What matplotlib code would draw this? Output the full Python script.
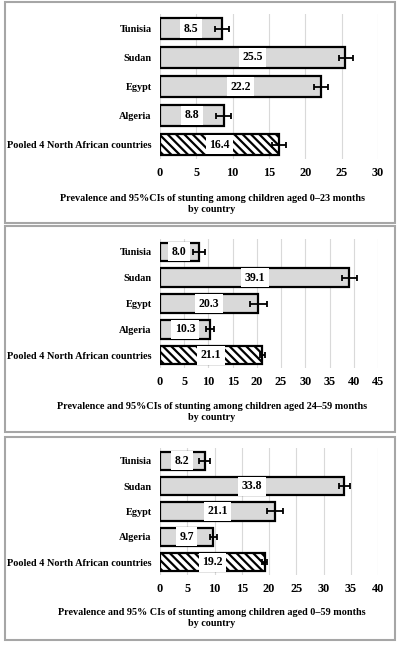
import matplotlib
matplotlib.use("Agg")
import matplotlib.pyplot as plt
from matplotlib.patches import Rectangle
import numpy as np

plt.rcParams["font.family"] = ["Liberation Serif", "DejaVu Serif"]
plt.rcParams["font.weight"] = "bold"
plt.rcParams["hatch.linewidth"] = 1.6

COUNTRIES = ["Tunisia", "Sudan", "Egypt", "Algeria", "Pooled 4 North African countries"]

# 0-23 months
PREV_0_23 = [8.5, 25.5, 22.2, 8.8, 16.4]
LOW_0_23 = [7.5, 24.6, 21.2, 7.7, 15.4]
HIGH_0_23 = [9.5, 26.5, 23.1, 9.8, 17.4]

# 24-59 months
PREV_24_59 = [8.0, 39.1, 20.3, 10.3, 21.1]
LOW_24_59 = [6.8, 37.6, 18.6, 9.4, 20.6]
HIGH_24_59 = [9.3, 40.6, 22.0, 11.2, 21.6]

# 0-59 months
PREV_0_59 = [8.2, 33.8, 21.1, 9.7, 19.2]
LOW_0_59 = [7.2, 32.8, 19.7, 9.1, 18.7]
HIGH_0_59 = [9.2, 34.8, 22.5, 10.4, 19.7]

TITLES = [
    "Prevalence and 95%CIs of stunting among children aged 0\u201323 months\nby country",
    "Prevalence and 95%CIs of stunting among children aged 24\u201359 months\nby country",
    "Prevalence and 95% CIs of stunting among children aged 0\u201359 months\nby country",
]
XMAX = [30, 45, 40]

W, H = 400, 647
# (axes top, axes bottom, title y, border top, border bottom) in pixels from top
PANELS = [
    (14, 159, 204, 2, 223),
    (239, 368, 412, 226, 432),
    (448, 575, 618, 437, 640),
]


def draw_panel(fig, prev, low, high, title, xmax, geom):
    top, bottom, title_y, b_top, b_bot = geom
    ax = fig.add_axes([160 / W, 1 - bottom / H, 218 / W, (bottom - top) / H])

    y = np.arange(len(COUNTRIES))[::-1]
    prev = np.asarray(prev)
    xerr = [prev - np.asarray(low), np.asarray(high) - prev]

    for yi, val, name in zip(y, prev, COUNTRIES):
        pooled = name.startswith("Pooled")
        ax.barh(yi, val, height=0.72, color="white" if pooled else "#d9d9d9",
                edgecolor="black", linewidth=1.6,
                hatch="\\\\\\\\" if pooled else None, zorder=2)
        ax.text(val / 2, yi, f"{val:.1f}", ha="center", va="center", fontsize=8.5,
                fontweight="bold", zorder=4,
                bbox=dict(facecolor="white", edgecolor="none",
                          boxstyle="square,pad=0.3"))

    ax.errorbar(prev, y, xerr=xerr, fmt="none", ecolor="black", elinewidth=1.3,
                capsize=2, capthick=1.3, zorder=5)

    ax.set_xlim(0, xmax)
    ax.set_ylim(-0.5, len(COUNTRIES) - 0.5)
    ax.set_xticks(np.arange(0, xmax + 1, 5))
    ax.set_yticks(y)
    ax.set_yticklabels(COUNTRIES)
    ax.tick_params(axis="both", length=0)
    ax.tick_params(axis="x", pad=6, labelsize=8.8)
    ax.tick_params(axis="y", pad=6, labelsize=7.4)
    for label in ax.get_xticklabels() + ax.get_yticklabels():
        label.set_fontweight("bold")
    for spine in ax.spines.values():
        spine.set_visible(False)
    ax.grid(axis="x", color="#d9d9d9", linewidth=0.8, zorder=0)
    ax.set_axisbelow(True)

    fig.text(212 / W, 1 - title_y / H, title, ha="center", va="center",
             fontsize=7.3, fontweight="bold", linespacing=1.3)

    fig.patches.append(Rectangle((5 / W, 1 - b_bot / H), 390 / W, (b_bot - b_top) / H,
                                 transform=fig.transFigure, fill=False,
                                 edgecolor="#a6a6a6", linewidth=1.5))


fig = plt.figure(figsize=(W / 100, H / 100), dpi=100)
fig.patch.set_facecolor("white")

draw_panel(fig, PREV_0_23, LOW_0_23, HIGH_0_23, TITLES[0], XMAX[0], PANELS[0])
draw_panel(fig, PREV_24_59, LOW_24_59, HIGH_24_59, TITLES[1], XMAX[1], PANELS[1])
draw_panel(fig, PREV_0_59, LOW_0_59, HIGH_0_59, TITLES[2], XMAX[2], PANELS[2])

fig.savefig("out.png", dpi=100)
